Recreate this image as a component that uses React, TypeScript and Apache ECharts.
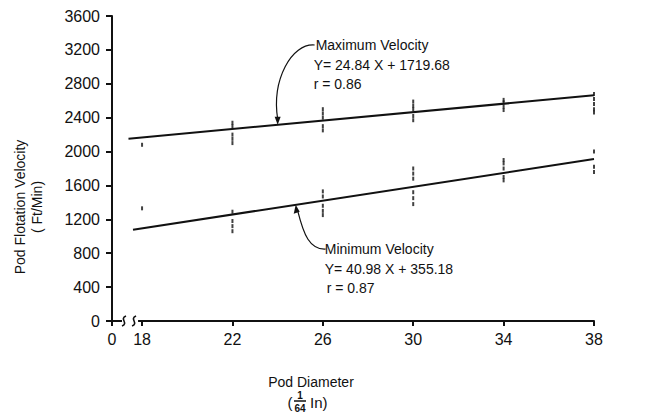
import React, { useEffect, useRef } from "react";
import * as echarts from "echarts";

// ---- data ----
const X_ZERO_POS = 16.67; // axis position standing for "0" (left of the axis break)
const X_TICKS = [18, 22, 26, 30, 34, 38];
const Y_MIN = 0;
const Y_MAX = 3600;
const Y_STEP = 400;

// Regression lines (end points, consistent with printed equations)
const MAX_LINE: [number, number][] = [
  [17.4, 2152],
  [38, 2664],
];
const MIN_LINE: [number, number][] = [
  [17.6, 1077],
  [38, 1912],
];

// Observed data marks (small vertical dashes)
const MAX_POINTS: [number, number][] = [
  [18, 2080],
  [22, 2340], [22, 2300], [22, 2200], [22, 2150], [22, 2100],
  [26, 2500], [26, 2450], [26, 2400], [26, 2300], [26, 2250],
  [30, 2590], [30, 2540], [30, 2500], [30, 2420], [30, 2370],
  [34, 2610], [34, 2580], [34, 2530], [34, 2490],
  [38, 2680], [38, 2620], [38, 2560], [38, 2500], [38, 2460],
];
const MIN_POINTS: [number, number][] = [
  [18, 1330],
  [22, 1290], [22, 1180], [22, 1120], [22, 1060],
  [26, 1530], [26, 1470], [26, 1360], [26, 1300], [26, 1250],
  [30, 1800], [30, 1740], [30, 1680], [30, 1520], [30, 1450], [30, 1380],
  [34, 1900], [34, 1860], [34, 1800], [34, 1700], [34, 1660],
  [38, 2000], [38, 1820], [38, 1760],
];

// Annotation anchors (data coordinates where arrows touch the lines)
const MAX_ARROW_AT: [number, number] = [24.0, 2316];
const MIN_ARROW_AT: [number, number] = [24.8, 1371];

const MAX_LABELS = ["Maximum Velocity", "Y= 24.84 X + 1719.68", "r = 0.86"];
const MIN_LABELS = ["Minimum Velocity", "Y= 40.98 X + 355.18", "r = 0.87"];

const FONT = '"Liberation Sans", Arial, sans-serif';
const INK = "#111";

export default function App() {
  const ref = useRef<HTMLDivElement>(null);

  useEffect(() => {
    document.body.style.margin = "0";
    const chart = echarts.init(ref.current!, null, { renderer: "svg" });
    const xLabelValues = [X_ZERO_POS, ...X_TICKS];
    chart.setOption({
      animation: false,
      backgroundColor: "#fff",
      grid: { left: 112, right: 76, top: 16, bottom: 98, containLabel: false },
      xAxis: {
        type: "value",
        min: X_ZERO_POS,
        max: 38,
        splitLine: { show: false },
        axisLine: { show: true, onZero: false, lineStyle: { color: INK, width: 2 } },
        axisTick: {
          show: true,
          customValues: xLabelValues,
          length: 5,
          lineStyle: { color: INK, width: 2 },
        },
        axisLabel: {
          customValues: xLabelValues,
          formatter: (v: number) => (Math.abs(v - X_ZERO_POS) < 1e-6 ? "0" : String(v)),
          color: INK,
          fontFamily: FONT,
          fontSize: 16,
          margin: 10,
        },
      },
      yAxis: {
        type: "value",
        min: Y_MIN,
        max: Y_MAX,
        interval: Y_STEP,
        splitLine: { show: false },
        axisLine: { show: true, lineStyle: { color: INK, width: 2 } },
        axisTick: { show: true, length: 6, lineStyle: { color: INK, width: 2 } },
        axisLabel: {
          formatter: (v: number) => String(v),
          color: INK,
          fontFamily: FONT,
          fontSize: 16,
          margin: 12,
        },
      },
      series: [
        {
          type: "line",
          data: MAX_LINE,
          showSymbol: false,
          lineStyle: { color: INK, width: 2 },
          silent: true,
        },
        {
          type: "line",
          data: MIN_LINE,
          showSymbol: false,
          lineStyle: { color: INK, width: 2 },
          silent: true,
        },
        {
          type: "scatter",
          data: MAX_POINTS,
          symbol: "rect",
          symbolSize: [2, 4],
          itemStyle: { color: INK },
        },
        {
          type: "scatter",
          data: MIN_POINTS,
          symbol: "rect",
          symbolSize: [2, 4],
          itemStyle: { color: INK },
        },
      ],
    });

    const tMax = chart.convertToPixel({ gridIndex: 0 }, MAX_ARROW_AT) as number[];
    const tMin = chart.convertToPixel({ gridIndex: 0 }, MIN_ARROW_AT) as number[];
    const origin = chart.convertToPixel({ gridIndex: 0 }, [X_ZERO_POS, 0]) as number[];
    const p18 = chart.convertToPixel({ gridIndex: 0 }, [18, 0]) as number[];

    const textStyle = (t: string, x: number, y: number, size = 14, extra: any = {}) => ({
      type: "text",
      x,
      y,
      style: {
        text: t,
        fill: INK,
        font: `${size}px ${FONT}`,
        verticalAlign: "middle",
        ...extra,
      },
      z: 10,
    });

    const maxTextX = tMax[0] + 36;
    const maxTextY = 45;
    const minTextX = tMin[0] + 29;
    const minTextY = 249;
    const lineGap = 19.5;

    const bx = origin[0];
    const by = origin[1];
    const gapL = bx + 7;
    const gapR = p18[0] - 4;
    const squiggle = (cx: number) => ({
      type: "bezierCurve",
      shape: {
        x1: cx - 2, y1: by + 5,
        cpx1: cx + 5, cpy1: by + 2,
        cpx2: cx - 5, cpy2: by - 2,
        x2: cx + 2, y2: by - 5,
      },
      style: { stroke: INK, lineWidth: 1.6, fill: null },
      z: 11,
    });

    chart.setOption({
      graphic: [
        // axis break
        { type: "rect", shape: { x: gapL, y: by - 3, width: gapR - gapL, height: 6 }, style: { fill: "#fff" }, z: 10 },
        { type: "line", shape: { x1: gapL - 1, y1: by, x2: gapL + 3, y2: by }, style: { stroke: INK, lineWidth: 2 }, z: 11 },
        squiggle(gapL + 5),
        squiggle(gapR - 4),
        // y axis name
        {
          type: "text", x: 20, y: 207, rotation: Math.PI / 2,
          style: { text: "Pod Flotation Velocity", fill: INK, font: `14px ${FONT}`, align: "center", verticalAlign: "middle" },
        },
        {
          type: "text", x: 37, y: 207, rotation: Math.PI / 2,
          style: { text: "( Ft/Min)", fill: INK, font: `14px ${FONT}`, align: "center", verticalAlign: "middle" },
        },
        // x axis name
        { type: "text", x: 311, y: 382, style: { text: "Pod Diameter", fill: INK, font: `14px ${FONT}`, align: "center", verticalAlign: "middle" } },
        { type: "text", x: 290, y: 402, style: { text: "(", fill: INK, font: `15px ${FONT}`, align: "center", verticalAlign: "middle" } },
        { type: "text", x: 300, y: 395, style: { text: "1", fill: INK, font: `bold 10px ${FONT}`, align: "center", verticalAlign: "middle" } },
        { type: "line", shape: { x1: 294, y1: 401, x2: 306, y2: 401 }, style: { stroke: INK, lineWidth: 1.5 } },
        { type: "text", x: 300, y: 408, style: { text: "64", fill: INK, font: `bold 10px ${FONT}`, align: "center", verticalAlign: "middle" } },
        { type: "text", x: 310, y: 402, style: { text: "In)", fill: INK, font: `15px ${FONT}`, align: "left", verticalAlign: "middle" } },
        // max annotation
        ...MAX_LABELS.map((t, i) => textStyle(t, maxTextX + (i === 0 ? 2 : 0), maxTextY + i * lineGap, 14, { align: "left" })),
        {
          type: "bezierCurve",
          shape: {
            x1: maxTextX + 1, y1: maxTextY,
            cpx1: maxTextX - 22, cpy1: maxTextY - 2,
            cpx2: tMax[0] - 6, cpy2: tMax[1] - 45,
            x2: tMax[0], y2: tMax[1] - 6,
          },
          style: { stroke: INK, lineWidth: 1.2, fill: null },
        },
        {
          type: "polygon",
          shape: { points: [[tMax[0] - 3, tMax[1] - 8], [tMax[0] + 3, tMax[1] - 8], [tMax[0], tMax[1]]] },
          style: { fill: INK },
        },
        // min annotation
        ...MIN_LABELS.map((t, i) => textStyle(t, minTextX + (i === 2 ? 2 : 0), minTextY + i * lineGap, 14, { align: "left" })),
        {
          type: "bezierCurve",
          shape: {
            x1: tMin[0] + 2, y1: tMin[1] + 6,
            cpx1: tMin[0] + 8, cpy1: tMin[1] + 30,
            cpx2: tMin[0] + 14, cpy2: minTextY + 1,
            x2: minTextX + 1, y2: minTextY,
          },
          style: { stroke: INK, lineWidth: 1.2, fill: null },
        },
        {
          type: "polygon",
          shape: { points: [[tMin[0] - 2, tMin[1] + 9], [tMin[0] + 4, tMin[1] + 7], [tMin[0], tMin[1]]] },
          style: { fill: INK },
        },
      ],
    });

    return () => chart.dispose();
  }, []);

  return (
    <div
      ref={ref}
      style={{ position: "fixed", left: 0, top: 0, width: 670, height: 419, background: "#fff" }}
    />
  );
}
